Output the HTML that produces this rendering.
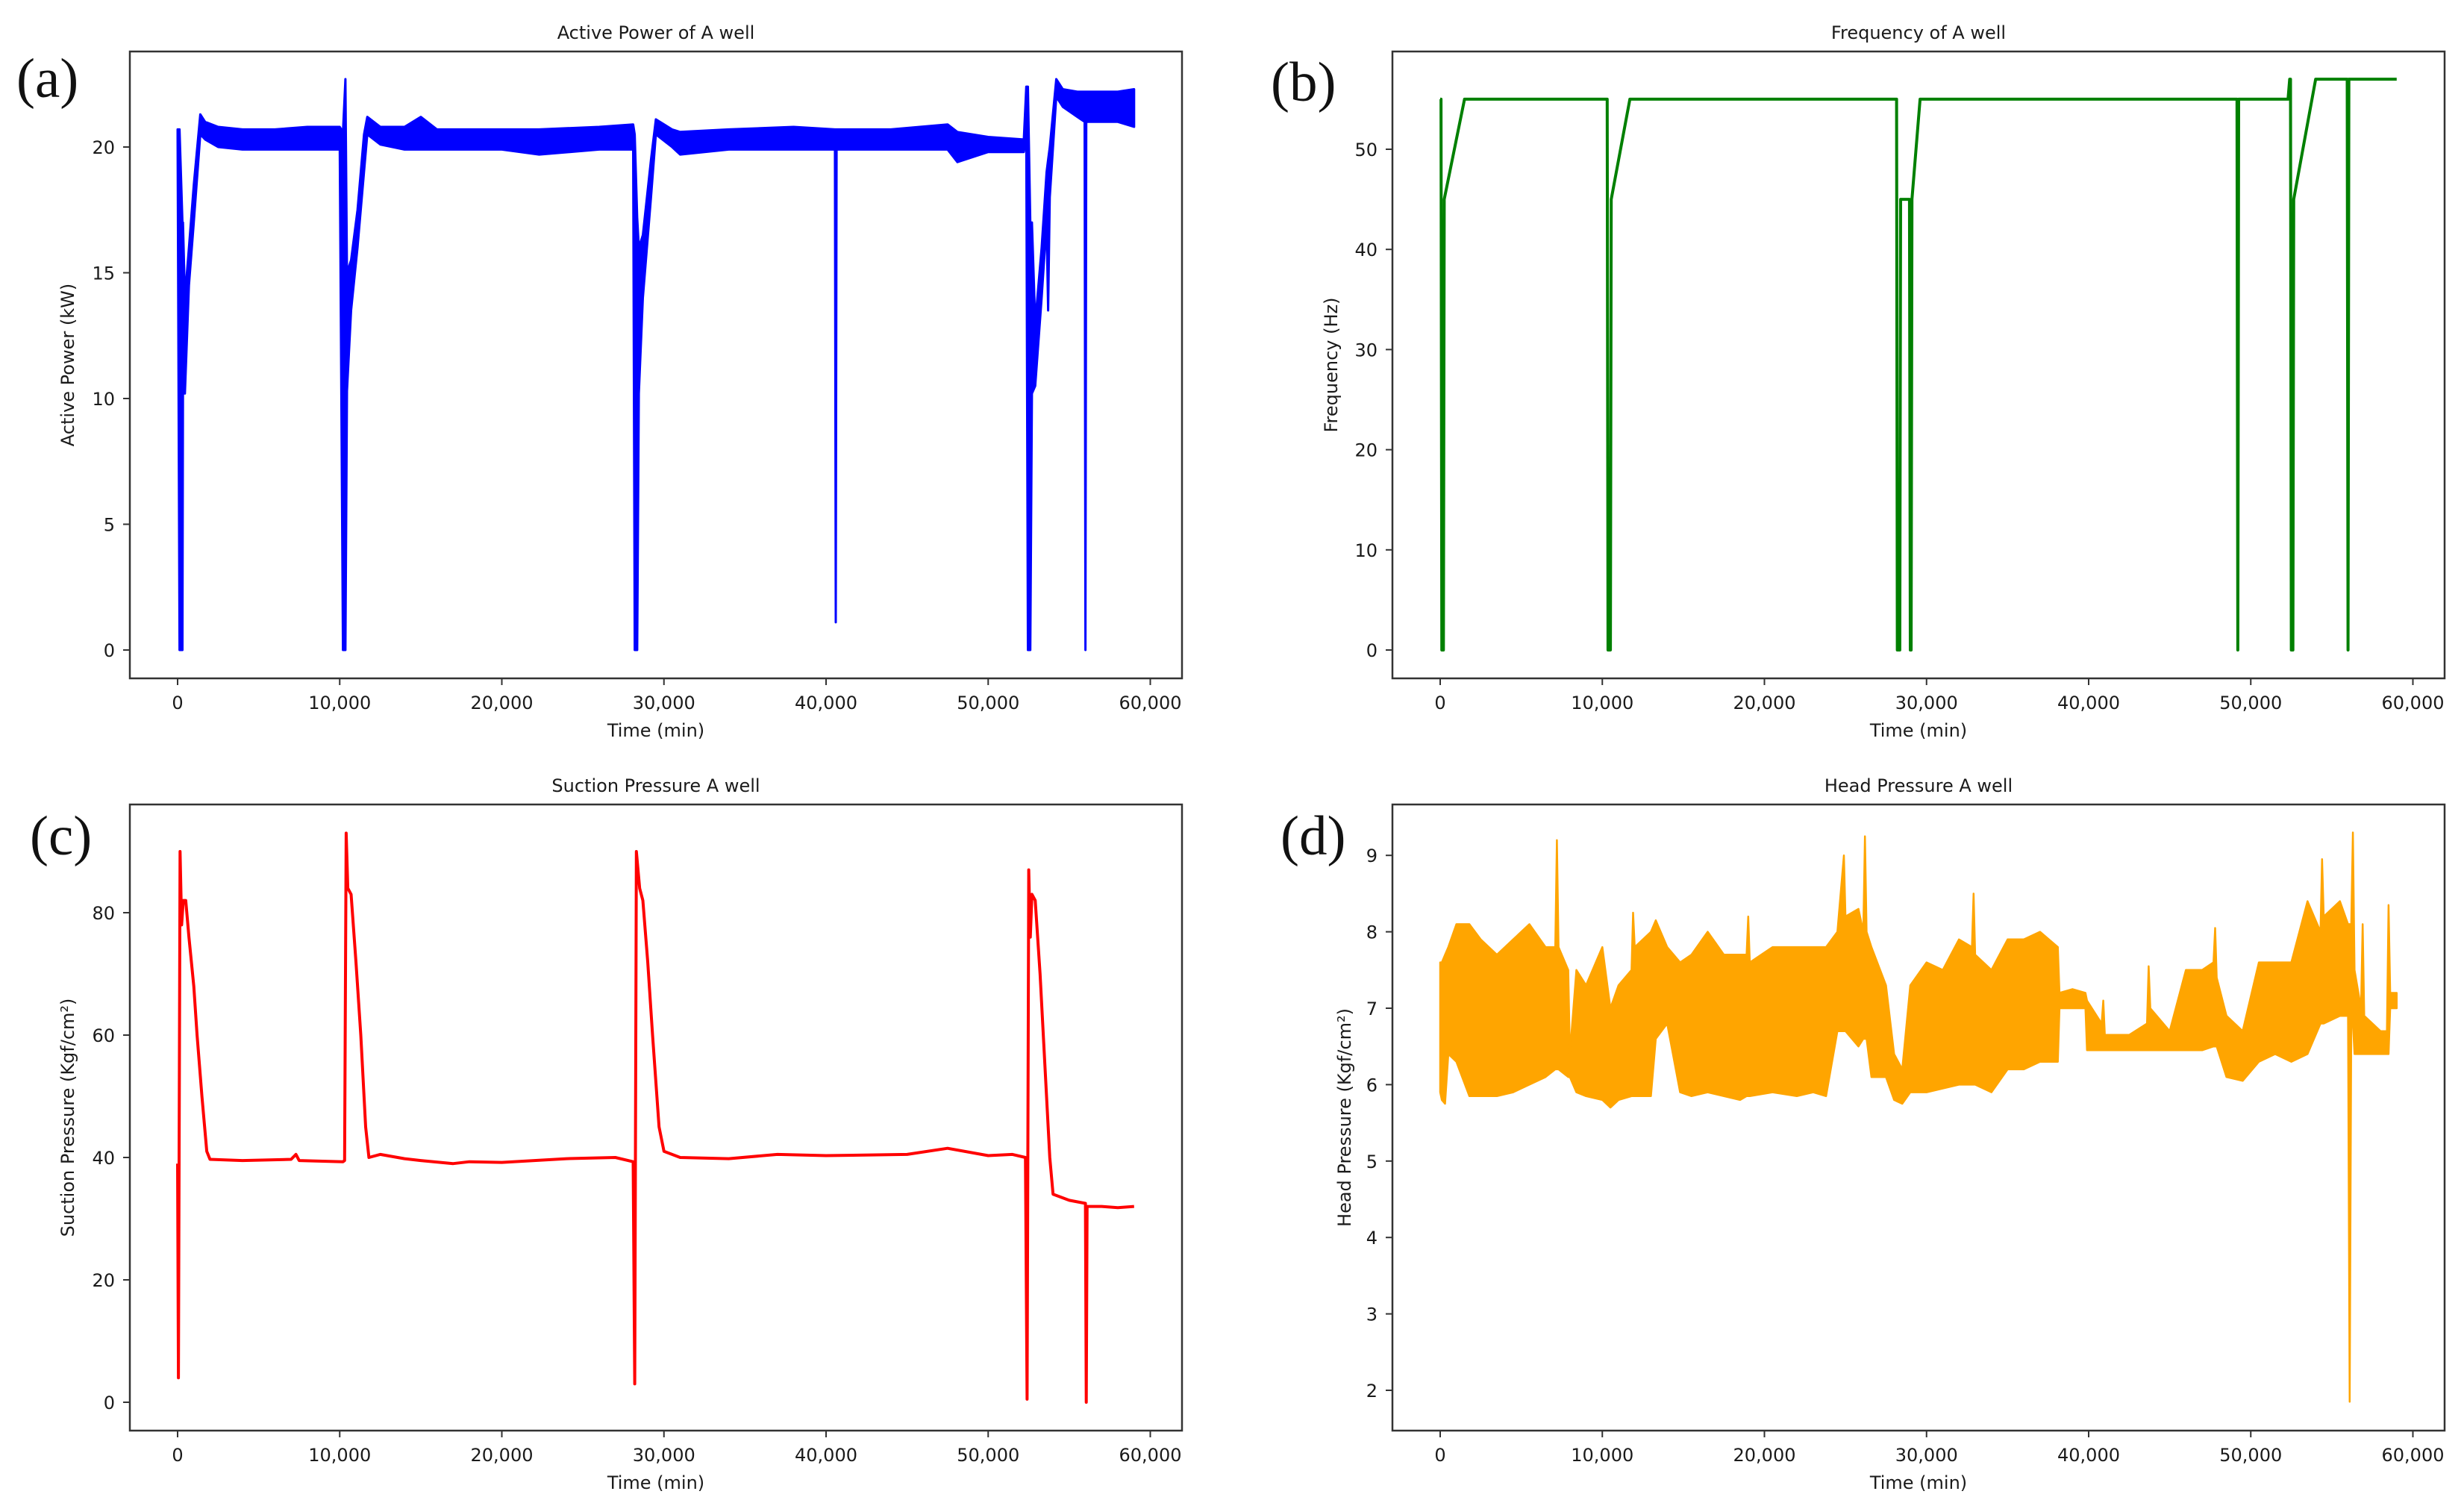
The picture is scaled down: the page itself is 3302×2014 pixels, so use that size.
<!DOCTYPE html>
<html>
<head>
<meta charset="utf-8">
<style>
  html, body { margin: 0; padding: 0; background: #ffffff; }
  svg { display: block; }
  text { font-family: "DejaVu Sans", "Liberation Sans", sans-serif; fill: #1a1a1a; }
  .plabel { font-family: "Liberation Serif", "DejaVu Serif", serif; font-size: 75px; fill: #111; }
</style>
</head>
<body>
<svg id="fig" width="3302" height="2014" viewBox="0 0 3302 2014" xmlns="http://www.w3.org/2000/svg"></svg>
<script>
// ---------- Panel (a): Active Power (kW) ----------
const powerT  = [0,120,300,330,450,700,1000,1400,1700,2500,4000,6000,8000,10000,10200,10350,10450,10700,11100,11500,11700,12500,14000,15000,16000,20000,22300,26000,28100,28200,28350,28450,28700,29200,29500,30500,31000,34000,38000,40550,40600,40650,44000,47500,48100,50000,52200,52350,52450,52600,52700,52900,53300,53600,53700,53800,54200,54600,55500,55950,56000,56050,58000,59000];
const powerLo = [20.4,0,0,10.2,10.2,14.5,17,20.5,20.3,20.0,19.9,19.9,19.9,19.9,0,0,10.3,13.5,16,19,20.5,20.1,19.9,19.9,19.9,19.9,19.7,19.9,19.9,0,0,10.2,14,18,20.5,20.0,19.7,19.9,19.9,19.9,1.1,19.9,19.9,19.9,19.4,19.8,19.8,20.5,0,0,10.2,10.5,14,17,13.5,18,22,21.6,21.2,21.0,0,21.0,21.0,20.8];
const powerHi = [20.7,20.7,17,17,14,16,18.5,21.3,21.0,20.8,20.7,20.7,20.8,20.8,20.6,22.7,15,15.5,17.5,20.5,21.2,20.8,20.8,21.2,20.7,20.7,20.7,20.8,20.9,20.5,17.2,16,16.5,19.5,21.1,20.7,20.6,20.7,20.8,20.7,20.7,20.7,20.7,20.9,20.6,20.4,20.3,22.4,22.4,17,17,13,16,19,19.5,20,22.7,22.3,22.2,22.2,22.2,22.2,22.2,22.3];
const powerTicks = [0,5,10,15,20];

// ---------- Panel (b): Frequency (Hz) ----------
const freqT = [0,50,100,200,250,1500,10300,10350,10500,10550,11700,28150,28200,28350,28400,28950,29000,29050,29100,29600,49150,49200,49250,52300,52400,52450,52500,52600,52650,54000,55950,56000,56050,59000];
const freqV = [55,55,0,0,45,55,55,0,0,45,55,55,0,0,45,45,0,0,45,55,55,0,55,55,57,57,0,0,45,57,57,0,57,57];
const freqTicks = [0,10,20,30,40,50];

// ---------- Panel (c): Suction Pressure (Kgf/cm2) ----------
const suctT = [0,50,150,250,350,500,700,1000,1200,1500,1800,2000,4000,7000,7300,7500,10200,10300,10400,10500,10700,11000,11300,11600,11800,12500,14000,15000,17000,18000,20000,24000,27000,28100,28200,28300,28500,28700,29000,29300,29700,30000,31000,34000,37000,40000,45000,47500,50000,51500,52300,52400,52500,52600,52700,52900,53200,53500,53800,54000,55000,56000,56050,56100,57000,58000,59000];
const suctV = [39,4,90,78,82,82,76,68,60,50,41,39.7,39.5,39.7,40.5,39.5,39.3,39.5,93,84,83,72,60,45,40,40.5,39.8,39.5,39,39.3,39.2,39.8,40,39.3,3,90,84,82,72,60,45,41,40,39.8,40.5,40.3,40.5,41.5,40.3,40.5,40,0.5,87,76,83,82,70,55,40,34,33,32.5,0,32,32,31.8,32];
const suctTicks = [0,20,40,60,80];

// ---------- Panel (d): Head Pressure (Kgf/cm2) ----------
const headT  = [0,100,300,500,1000,1800,2500,3500,4500,5500,
                6500,7100,7200,7300,7900,8000,8400,9000,10000,10500,
                11000,11800,11900,12000,13000,13300,14000,14800,15500,16500,
                17500,18500,18900,19000,19100,20500,22000,23000,23800,24500,
                24900,25000,25800,26100,26200,26300,26600,27500,28000,28500,
                29000,30000,31000,32000,32800,32900,33000,34000,35000,36000,
                37000,38100,38200,39000,39800,39900,40800,40900,41000,42500,
                43600,43700,43800,45000,46000,47000,47700,47800,47900,48500,
                49500,50500,51500,52500,53500,54300,54400,54500,55500,56000,
                56100,56200,56300,56400,56800,56900,57000,58000,58400,58500,
                58600,59000];
const headLo = [5.9,5.8,5.75,6.4,6.3,5.85,5.85,5.85,5.9,6.0,
                6.1,6.2,6.2,6.2,6.1,6.1,5.9,5.85,5.8,5.7,
                5.8,5.85,5.85,5.85,5.85,6.6,6.8,5.9,5.85,5.9,
                5.85,5.8,5.85,5.85,5.85,5.9,5.85,5.9,5.85,6.7,
                6.7,6.7,6.5,6.6,6.6,6.6,6.1,6.1,5.8,5.75,
                5.9,5.9,5.95,6.0,6.0,6.0,6.0,5.9,6.2,6.2,
                6.3,6.3,7.0,7.0,7.0,6.45,6.45,6.45,6.45,6.45,
                6.45,6.45,6.45,6.45,6.45,6.45,6.5,6.5,6.5,6.1,
                6.05,6.3,6.4,6.3,6.4,6.8,6.8,6.8,6.9,6.9,
                1.85,6.8,6.8,6.4,6.4,6.4,6.4,6.4,6.4,6.4,
                7.0,7.0];
const headHi = [7.6,7.6,7.7,7.8,8.1,8.1,7.9,7.7,7.9,8.1,
                7.8,7.8,9.2,7.8,7.5,6.4,7.5,7.3,7.8,7.0,
                7.3,7.5,8.25,7.8,8.0,8.15,7.8,7.6,7.7,8.0,
                7.7,7.7,7.7,8.2,7.6,7.8,7.8,7.8,7.8,8.0,
                9.0,8.2,8.3,8.0,9.25,8.0,7.8,7.3,6.4,6.2,
                7.3,7.6,7.5,7.9,7.8,8.5,7.7,7.5,7.9,7.9,
                8.0,7.8,7.2,7.25,7.2,7.1,6.8,7.1,6.65,6.65,
                6.8,7.55,7.0,6.7,7.5,7.5,7.6,8.05,7.4,6.9,
                6.7,7.6,7.6,7.6,8.4,8.0,8.95,8.2,8.4,8.1,
                8.1,8.1,9.3,7.5,7.0,8.1,6.9,6.7,6.7,8.35,
                7.2,7.2];
const headTicks = [2,3,4,5,6,7,8,9];

const xTicks = [0,10000,20000,30000,40000,50000,60000];
const xTickLabels = ["0","10,000","20,000","30,000","40,000","50,000","60,000"];

const NS = "http://www.w3.org/2000/svg";
const svg = document.getElementById('fig');
function mk(tag, attrs, parent) {
  const e = document.createElementNS(NS, tag);
  for (const k in attrs) e.setAttribute(k, attrs[k]);
  (parent || svg).appendChild(e);
  return e;
}
function fmt(n){ return n.toFixed(1); }

function makePanel(cfg) {
  const g = mk('g', {});
  
  
  const L = cfg.left, R = cfg.right, T = cfg.top, B = cfg.bottom;
  const xs = t => cfg.x0 + (t / 10000) * 217.25;
  const ys = v => cfg.yBase - (v - cfg.vBase) * cfg.pxPerUnit;

  const title = mk('text', {x: (L+R)/2, y: T - 17, 'text-anchor': 'middle', 'font-size': 24}, g);
  title.textContent = cfg.title;
  
  

  const pl = mk('text', {x: cfg.plx, y: cfg.ply, class: 'plabel'}, g);
  pl.textContent = cfg.letter;
  
  

  const cid = 'clip-' + cfg.name;
  const cp = mk('clipPath', {id: cid}, g);
  mk('rect', {x: L, y: T, width: R - L, height: B - T}, cp);
  const plot = mk('g', {'clip-path': 'url(#' + cid + ')'}, g);
  
  

  if (cfg.lo) {
    let d = '';
    for (let i = 0; i < cfg.t.length; i++) d += (i ? 'L' : 'M') + fmt(xs(cfg.t[i])) + ',' + fmt(ys(cfg.hi[i]));
    for (let i = cfg.t.length - 1; i >= 0; i--) d += 'L' + fmt(xs(cfg.t[i])) + ',' + fmt(ys(cfg.lo[i]));
    d += 'Z';
    const p = mk('path', {d: d, fill: cfg.color, stroke: cfg.color, 'stroke-width': cfg.sw, 'stroke-linejoin': 'round'}, plot);
    
    
  } else {
    let pts = [];
    for (let i = 0; i < cfg.t.length; i++) pts.push(fmt(xs(cfg.t[i])) + ',' + fmt(ys(cfg.v[i])));
    const p = mk('polyline', {points: pts.join(' '), fill: 'none', stroke: cfg.color, 'stroke-width': cfg.sw, 'stroke-linejoin': 'round'}, plot);
    
    
  }

  const fr = mk('rect', {x: L, y: T, width: R - L, height: B - T, fill: 'none', stroke: '#333', 'stroke-width': 2.5}, g);
  
  

  for (let i = 0; i < xTicks.length; i++) {
    const x = xs(xTicks[i]);
    mk('line', {x1: x, y1: B, x2: x, y2: B + 9, stroke: '#333', 'stroke-width': 2}, g);
    const tl = mk('text', {x: x, y: B + 41, 'text-anchor': 'middle', 'font-size': 24}, g);
    tl.textContent = xTickLabels[i];
    
    
  }
  for (const v of cfg.ticks) {
    const y = ys(v);
    mk('line', {x1: L - 9, y1: y, x2: L, y2: y, stroke: '#333', 'stroke-width': 2}, g);
    const tl = mk('text', {x: L - 20, y: y + 9, 'text-anchor': 'end', 'font-size': 24}, g);
    tl.textContent = String(v);
    
    
  }
  const xl = mk('text', {x: (L+R)/2, y: B + 78, 'text-anchor': 'middle', 'font-size': 24}, g);
  xl.textContent = 'Time (min)';
  
  
  const yc = (T + B) / 2;
  const yl = mk('text', {x: cfg.ylx, y: yc, 'text-anchor': 'middle', 'font-size': 24, transform: 'rotate(-90 ' + cfg.ylx + ' ' + yc + ')', 'dominant-baseline': 'middle'}, g);
  yl.textContent = cfg.ylabel;
  
  
}

makePanel({name: 'panel-a-active-power', title: 'Active Power of A well', letter: '(a)', plx: 22, ply: 130,
  left: 174, right: 1584, top: 69, bottom: 909, x0: 238, yBase: 871, vBase: 0, pxPerUnit: 33.7,
  t: powerT, lo: powerLo, hi: powerHi, ticks: powerTicks, color: '#0000ff', sw: 3,
  ylabel: 'Active Power (kW)', ylx: 92});

makePanel({name: 'panel-b-frequency', title: 'Frequency of A well', letter: '(b)', plx: 1703, ply: 135,
  left: 1866, right: 3276, top: 69, bottom: 909, x0: 1930, yBase: 871, vBase: 0, pxPerUnit: 13.42,
  t: freqT, v: freqV, ticks: freqTicks, color: '#008000', sw: 4,
  ylabel: 'Frequency (Hz)', ylx: 1785});

makePanel({name: 'panel-c-suction-pressure', title: 'Suction Pressure A well', letter: '(c)', plx: 40, ply: 1145,
  left: 174, right: 1584, top: 1078, bottom: 1917, x0: 238, yBase: 1879, vBase: 0, pxPerUnit: 8.2,
  t: suctT, v: suctV, ticks: suctTicks, color: '#ff0000', sw: 4,
  ylabel: 'Suction Pressure (Kgf/cm²)', ylx: 92});

makePanel({name: 'panel-d-head-pressure', title: 'Head Pressure A well', letter: '(d)', plx: 1716, ply: 1145,
  left: 1866, right: 3276, top: 1078, bottom: 1917, x0: 1930, yBase: 1863, vBase: 2, pxPerUnit: 102.4,
  t: headT, lo: headLo, hi: headHi, ticks: headTicks, color: '#ffa500', sw: 2.5,
  ylabel: 'Head Pressure (Kgf/cm²)', ylx: 1803});
</script>
</body>
</html>
